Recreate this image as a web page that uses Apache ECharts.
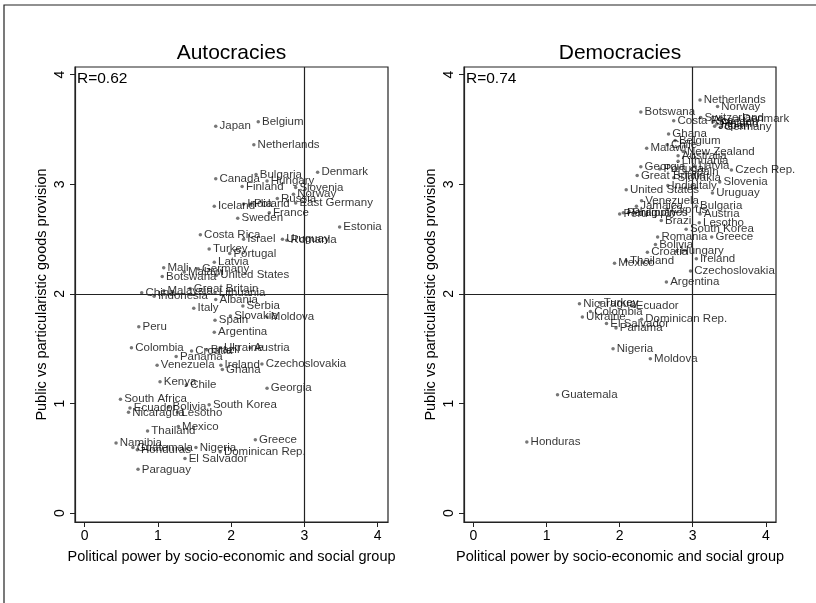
<!DOCTYPE html>
<html>
<head>
<meta charset="utf-8">
<script src="https://cdn.jsdelivr.net/npm/echarts@6/dist/echarts.min.js"></script>
<style>
  html, body { margin: 0; padding: 0; background: #fff; }
  #chart { width: 816px; height: 603px; }
</style>
</head>
<body>
<div id="chart"></div>
<script>
// autocracies
var autoNames = ["Japan", "Belgium", "Netherlands", "Bulgaria", "Canada", "Hungary", "Denmark", "Finland",
    "Slovenia", "Norway", "Russia", "Iceland", "India", "Poland", "East Germany", "France", "Sweden", "Estonia",
    "Costa Rica", "Israel", "Uruguay", "Romania", "Turkey", "Portugal", "Latvia", "Mali", "Malawi", "Germany",
    "Botswana", "United States", "China", "Malaysia", "Indonesia", "Great Britain", "Lithuania", "Albania",
    "Serbia", "Italy", "Slovakia", "Spain", "Moldova", "Peru", "Argentina", "Colombia", "Croatia", "Brazil",
    "Ukraine", "Austria", "Panama", "Venezuela", "Ireland", "Ghana", "Czechoslovakia", "Kenya", "Chile",
    "Georgia", "South Africa", "Ecuador", "Bolivia", "South Korea", "Nicaragua", "Lesotho", "Mexico",
    "Thailand", "Namibia", "Greece", "Guatemala", "Honduras", "Nigeria", "Dominican Rep.", "El Salvador",
    "Paraguay"];
var autoX = [1.79, 2.37, 2.31, 2.34, 1.79, 2.49, 3.18, 2.15,
    2.88, 2.85, 2.63, 1.77, 2.17, 2.26, 2.88, 2.52, 2.09, 3.48,
    1.58, 2.17, 2.70, 2.76, 1.70, 1.98, 1.77, 1.08, 1.36, 1.55,
    1.06, 1.80, 0.78, 1.08, 0.95, 1.44, 1.78, 1.79,
    2.16, 1.49, 1.99, 1.78, 2.49, 0.74, 1.77, 0.64, 1.46, 1.67,
    1.85, 2.26, 1.25, 0.99, 1.86, 1.88, 2.42, 1.03, 1.39,
    2.49, 0.49, 0.62, 1.15, 1.70, 0.60, 1.27, 1.28,
    0.86, 0.43, 2.33, 0.66, 0.72, 1.52, 1.85, 1.37,
    0.73];
var autoY = [3.53, 3.57, 3.36, 3.09, 3.05, 3.03, 3.11, 2.98,
    2.97, 2.91, 2.87, 2.80, 2.82, 2.82, 2.83, 2.74, 2.69, 2.61,
    2.54, 2.50, 2.50, 2.49, 2.41, 2.37, 2.29, 2.24, 2.20, 2.23,
    2.16, 2.17, 2.01, 2.03, 1.98, 2.05, 2.01, 1.95,
    1.89, 1.87, 1.80, 1.76, 1.79, 1.70, 1.65, 1.51, 1.48, 1.49,
    1.51, 1.51, 1.43, 1.35, 1.35, 1.31, 1.36, 1.20, 1.17,
    1.14, 1.04, 0.96, 0.97, 0.99, 0.92, 0.92, 0.79,
    0.75, 0.64, 0.67, 0.60, 0.58, 0.60, 0.56, 0.50,
    0.40];

// democracies
var demoNames = ["Netherlands", "Norway", "Botswana", "Switzerland", "Denmark", "Costa Rica", "Sweden", "Finland",
    "Germany", "Japan", "Ghana", "Belgium", "Chile", "Malawi", "New Zealand", "Australia", "Lithuania", "Latvia",
    "Georgia", "Portugal", "Czech Rep.", "Spain", "Great Britain", "Slovakia", "Slovenia", "India", "Italy",
    "United States", "Uruguay", "Venezuela", "Jamaica", "Bulgaria", "Cyprus", "Paraguay", "Peru", "Philippines",
    "Austria", "Brazil", "Lesotho", "South Korea", "Romania", "Greece", "Bolivia", "Croatia", "Hungary",
    "Ireland", "Thailand", "Mexico", "Czechoslovakia", "Argentina", "Nicaragua", "Turkey", "Ecuador",
    "Colombia", "Ukraine", "Dominican Rep.", "El Salvador", "Panama", "Nigeria", "Moldova", "Guatemala",
    "Honduras"];
var demoX = [3.10, 3.34, 2.29, 3.11, 3.63, 2.74, 3.28, 3.33,
    3.38, 3.30, 2.67, 2.76, 2.65, 2.37, 2.87, 2.80, 2.80, 3.03,
    2.29, 2.55, 3.53, 2.90, 2.24, 2.74, 3.37, 2.66, 2.99,
    2.09, 3.27, 2.30, 2.23, 3.05, 2.65, 2.05, 2.00, 2.12,
    3.10, 2.57, 3.09, 2.91, 2.52, 3.26, 2.49, 2.38, 2.78,
    3.05, 2.09, 1.93, 2.97, 2.64, 1.45, 1.73, 2.17,
    1.60, 1.49, 2.30, 1.82, 1.95, 1.91, 2.42, 1.15,
    0.73];
var demoY = [3.77, 3.71, 3.66, 3.61, 3.60, 3.58, 3.57, 3.55,
    3.52, 3.53, 3.46, 3.40, 3.36, 3.33, 3.30, 3.26, 3.21, 3.17,
    3.16, 3.14, 3.13, 3.11, 3.08, 3.06, 3.02, 2.99, 2.99,
    2.95, 2.92, 2.85, 2.80, 2.80, 2.77, 2.74, 2.73, 2.74,
    2.73, 2.67, 2.65, 2.59, 2.52, 2.52, 2.45, 2.38, 2.39,
    2.32, 2.30, 2.28, 2.21, 2.11, 1.91, 1.92, 1.89,
    1.84, 1.79, 1.77, 1.73, 1.69, 1.50, 1.41, 1.08,
    0.65];

var tickValues = [0, 1, 2, 3, 4];
var panelTitles = ["Autocracies", "Democracies"];
var corrLabels = ["R=0.62", "R=0.74"];
var xTitle = "Political power by socio-economic and social group";
var yTitle = "Public vs particularistic goods provision";
var refX = 3, refY = 2;

var FONT = "'Liberation Sans', Arial, Helvetica, sans-serif";

function toPoints(names, xs, ys) {
    var out = [];
    for (var i = 0; i < names.length; i++) {
        out.push({ name: names[i], value: [xs[i], ys[i]] });
    }
    return out;
}

function makeX(idx) {
    return {
        gridIndex: idx,
        type: 'value',
        min: -0.13,
        max: 4.14,
        name: xTitle,
        nameLocation: 'middle',
        nameGap: 27,
        nameTextStyle: { fontFamily: FONT, fontSize: 14.5, color: '#000' },
        axisLine: { show: true, onZero: false, lineStyle: { color: '#222', width: 1.2 } },
        axisTick: { show: true, length: 5, customValues: tickValues, lineStyle: { color: '#222' } },
        axisLabel: { customValues: tickValues, fontFamily: FONT, fontSize: 14, color: '#000', margin: 7 },
        splitLine: { show: false }
    };
}

function makeY(idx) {
    return {
        gridIndex: idx,
        type: 'value',
        min: -0.08,
        max: 4.07,
        name: yTitle,
        nameLocation: 'middle',
        nameGap: 26,
        nameTextStyle: { fontFamily: FONT, fontSize: 14.5, color: '#000' },
        axisLine: { show: true, onZero: false, lineStyle: { color: '#222', width: 1.2 } },
        axisTick: { show: true, length: 5, customValues: tickValues, lineStyle: { color: '#222' } },
        axisLabel: { customValues: tickValues, rotate: 90, fontFamily: FONT, fontSize: 14, color: '#000', margin: 8 },
        splitLine: { show: false }
    };
}

function makeSeries(idx, data) {
    return {
        type: 'scatter',
        xAxisIndex: idx,
        yAxisIndex: idx,
        data: data,
        symbol: 'circle',
        symbolSize: 3.5,
        itemStyle: { color: '#555' },
        label: {
            show: true,
            position: 'right',
            distance: 2,
            formatter: '{b}',
            fontFamily: FONT,
            fontSize: 11.5,
            color: '#000'
        },
        emphasis: { disabled: true },
        markLine: {
            silent: true,
            symbol: ['none', 'none'],
            label: { show: false },
            lineStyle: { color: '#222', type: 'solid', width: 1.2 },
            data: [{ xAxis: refX }, { yAxis: refY }]
        }
    };
}

var chart = echarts.init(document.getElementById('chart'));
var option = {
    backgroundColor: '#fff',
    animation: false,
    grid: [
        { left: 75, top: 67, width: 313, height: 455, show: true, borderColor: '#222', borderWidth: 1.2 },
        { left: 464, top: 67, width: 312, height: 455, show: true, borderColor: '#222', borderWidth: 1.2 }
    ],
    xAxis: [makeX(0), makeX(1)],
    yAxis: [makeY(0), makeY(1)],
    series: [
        makeSeries(0, toPoints(autoNames, autoX, autoY)),
        makeSeries(1, toPoints(demoNames, demoX, demoY))
    ],
    graphic: [
        { type: 'rect', shape: { x: 4, y: 5, width: 900, height: 700 }, style: { fill: 'none', stroke: '#222', lineWidth: 1.2 }, silent: true },
        { type: 'text', x: 231.5, y: 53, style: { text: panelTitles[0], fontFamily: FONT, fontSize: 21, fill: '#000', textAlign: 'center', textVerticalAlign: 'middle' } },
        { type: 'text', x: 620, y: 53, style: { text: panelTitles[1], fontFamily: FONT, fontSize: 21, fill: '#000', textAlign: 'center', textVerticalAlign: 'middle' } },
        { type: 'text', x: 77, y: 79, style: { text: corrLabels[0], fontFamily: FONT, fontSize: 15.5, fill: '#000', textAlign: 'left', textVerticalAlign: 'middle' } },
        { type: 'text', x: 466, y: 79, style: { text: corrLabels[1], fontFamily: FONT, fontSize: 15.5, fill: '#000', textAlign: 'left', textVerticalAlign: 'middle' } }
    ]
};
chart.setOption(option);
</script>
</body>
</html>
